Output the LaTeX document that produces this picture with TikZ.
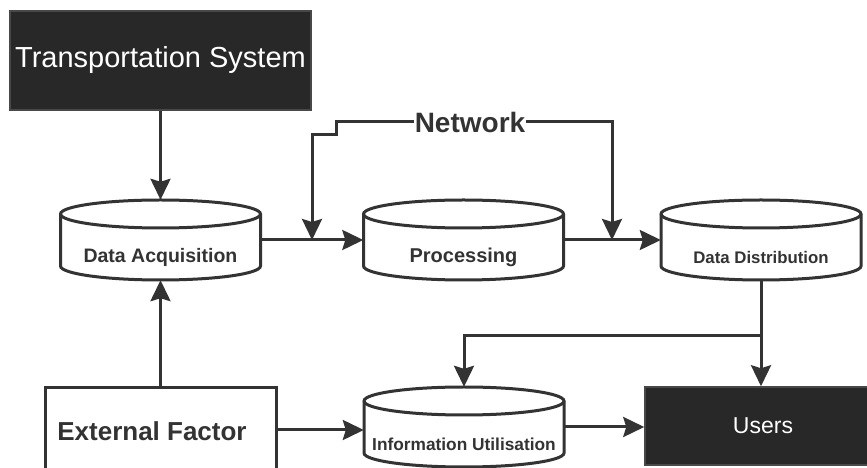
\documentclass[tikz,border=0pt]{standalone}
\usepackage{fontspec}
\setmainfont{Liberation Sans}
\usetikzlibrary{arrows.meta,calc}
\definecolor{ink}{HTML}{333333}
\definecolor{dark}{HTML}{282828}
\tikzset{
  conn/.style={draw=ink, line width=3pt, -{Stealth[length=21pt,width=20pt,inset=3pt]}},
  plain/.style={draw=ink, line width=3pt},
  darkbox/.style={fill=dark, draw=dark!85!white, line width=1.5pt, text=white, inner sep=0pt},
  whitebox/.style={draw=ink, fill=white, line width=3pt, inner sep=0pt, text=ink},
  cylarea/.style={inner sep=0pt, minimum width=200pt, minimum height=80pt},
  cylline/.style={draw=ink, line width=3pt, fill=white},
  cyltext/.style={inner sep=0pt, text=ink, font=\bfseries},
}
\newcommand\mycyl[5]{% name, x, y, fontsize, text
  \draw[cylline] (#2-100,#3+26) -- (#2-100,#3-26)
     arc[start angle=180,end angle=360,x radius=100pt,y radius=14pt]
     -- (#2+100,#3+26)
     arc[start angle=0,end angle=180,x radius=100pt,y radius=14pt] -- cycle;
  \draw[cylline,fill=none] (#2-100,#3+26)
     arc[start angle=180,end angle=360,x radius=100pt,y radius=14pt];
  \node[cylarea] (#1) at (#2,#3) {};
  \node[cyltext,font=\bfseries\fontsize{#4}{#4}\selectfont] (#1-t) at (#2,#3-17) {#5};
}
\begin{document}
\begin{tikzpicture}[x=1pt,y=1pt]
\useasboundingbox (0,0) rectangle (867,468);
\node[darkbox, minimum width=301pt, minimum height=99pt, font=\fontsize{29}{31}\selectfont] (ts) at (160.5,407.5) {Transportation System};
\mycyl{da}{160.5}{228}{19.5}{Data Acquisition}
\mycyl{proc}{463.5}{228}{20}{Processing}
\mycyl{dd}{761}{228}{16.8}{Data Distribution}
\mycyl{info}{464}{41}{17.3}{Information Utilisation}
\node[whitebox, minimum width=231pt, minimum height=84pt] (ef) at (160.5,38) {};
\node[text=ink, inner sep=0pt, font=\bfseries\fontsize{26}{28}\selectfont] (ef-t) at (152,37) {External Factor};
\node[darkbox, minimum width=224pt, minimum height=78pt] (users) at (757,42) {};
\node[text=white, inner sep=0pt, font=\fontsize{23}{25}\selectfont] (users-t) at (763,42) {Users};
\node[inner sep=1pt, text=ink, font=\bfseries\fontsize{28}{30}\selectfont] (net) at (470,346) {Network};

\draw[conn] (ts.south) -- (da.north);
\draw[conn] (ef.north) -- (da.south);
\draw[conn] (da.east) -- (proc.west);
\draw[conn] (proc.east) -- (dd.west);
\draw[conn] (ef.east) -- (ef.east -| info.west);
\draw[conn] (info.east) -- (info.east -| users.west);
\draw[conn] (dd.south) -- (dd.south |- users.north);
\coordinate (br) at ($(dd.south)+(0,-55)$);
\draw[conn] (br) -- (br -| info.north) -- (info.north);
\coordinate (nl1) at (336,346);
\coordinate (nl2) at (336,333);
\coordinate (nl3) at (312,333);
\coordinate (nlj) at (312,228);
\draw[conn] (net.west) -- (nl1) -- (nl2) -- (nl3) -- (nlj);
\coordinate (nr1) at (612,346);
\coordinate (nrj) at (612,228);
\draw[conn] (net.east) -- (nr1) -- (nrj);
\end{tikzpicture}
\end{document}
